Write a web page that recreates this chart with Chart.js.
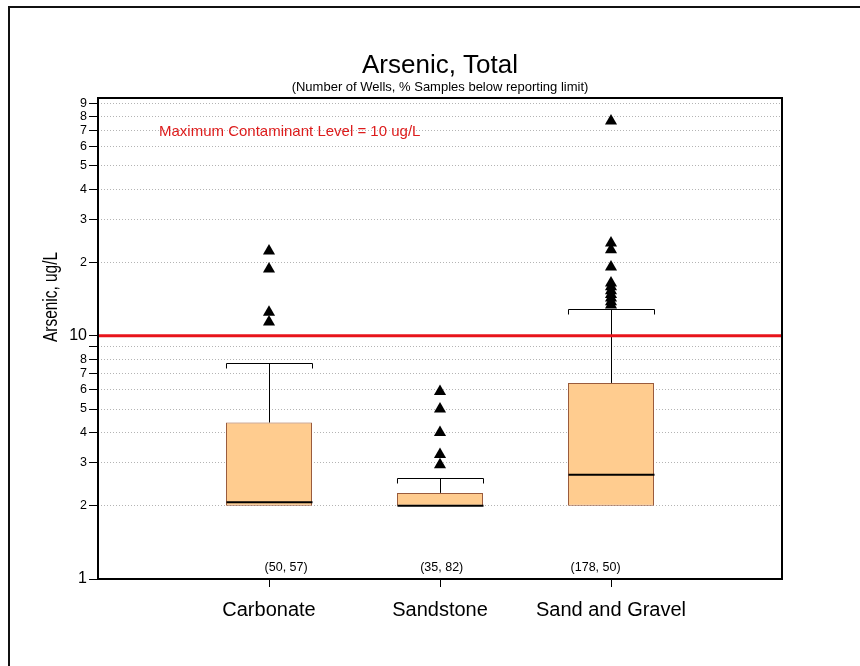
<!DOCTYPE html>
<html>
<head>
<meta charset="utf-8">
<script src="https://cdn.jsdelivr.net/npm/chart.js@4.4.0/dist/chart.umd.min.js"></script>
<style>
  html, body { margin: 0; padding: 0; background: #fff; }
  #wrap { width: 860px; height: 666px; }
</style>
</head>
<body>
<div id="wrap"><canvas id="chart" width="860" height="666"></canvas></div>
<script>
// Box plot values (ug/L)
const categories = ['Carbonate', 'Sandstone', 'Sand and Gravel'];
const countLabels = ['(50, 57)', '(35, 82)', '(178, 50)'];
const boxLow = [2, 2, 2];
const boxHigh = [4.4, 2.26, 6.4];
const medians = [2.07, 2.0, 2.68];
const whiskerHigh = [7.75, 2.6, 12.9];
const outliersCarbonate = [11.4, 12.5, 18.8, 22.3];
const outliersSandstone = [2.95, 3.25, 4.0, 5.0, 5.9];
const outliersSandGravel = [13.4, 13.8, 14.3, 14.8, 15.3, 15.9, 16.5, 19.2, 22.6, 24.1, 76.5];
const mclValue = 10;
const yTicks = [1, 2, 3, 4, 5, 6, 7, 8, 9, 10, 20, 30, 40, 50, 60, 70, 80, 90];
const yTickLabels = ['1', '2', '3', '4', '5', '6', '7', '8', '', '10', '2', '3', '4', '5', '6', '7', '8', '9'];

const FONT = "'Liberation Sans', Arial, sans-serif";
Chart.defaults.font.family = FONT;
Chart.defaults.color = '#000';

const outlierPoints = [];
[outliersCarbonate, outliersSandstone, outliersSandGravel].forEach((list, i) => {
    list.forEach(v => outlierPoints.push({ x: i + 1, y: v }));
});

function isMajor(ctx) {
    return ctx.tick && (ctx.tick.value === 1 || ctx.tick.value === 10);
}

// whiskers, medians, frame and the loose text bits
const boxExtras = {
    id: 'boxExtras',
    beforeDraw(chart) {
        const ctx = chart.ctx;
        ctx.save();
        ctx.fillStyle = '#fff';
        ctx.fillRect(0, 0, chart.width, chart.height);
        ctx.fillStyle = '#111';
        ctx.fillRect(8, 6, 2, chart.height - 6);
        ctx.fillRect(8, 6, chart.width - 8, 2);
        ctx.restore();
    },
    afterDatasetDraw(chart, args) {
        if (args.index !== 0) return;
        const ctx = chart.ctx;
        const y = chart.scales.y;
        const meta = chart.getDatasetMeta(0);
        ctx.save();
        meta.data.forEach((bar, i) => {
            const cx = Math.round(bar.x) + 0.5;
            const half = bar.width / 2;
            const top = Math.round(y.getPixelForValue(whiskerHigh[i])) + 0.5;
            const q3 = y.getPixelForValue(boxHigh[i]);
            ctx.strokeStyle = '#000';
            ctx.lineWidth = 1;
            ctx.beginPath();
            ctx.moveTo(cx, q3);
            ctx.lineTo(cx, top);
            ctx.moveTo(cx - half, top + 5);
            ctx.lineTo(cx - half, top);
            ctx.lineTo(cx + half, top);
            ctx.lineTo(cx + half, top + 5);
            ctx.stroke();

            const med = y.getPixelForValue(medians[i]);
            ctx.lineWidth = 2;
            ctx.beginPath();
            ctx.moveTo(cx - half, med);
            ctx.lineTo(cx + half, med);
            ctx.stroke();
        });
        ctx.restore();
    },
    afterDraw(chart) {
        const ctx = chart.ctx;
        const area = chart.chartArea;
        const x = chart.scales.x;
        ctx.save();
        ctx.strokeStyle = '#000';
        ctx.lineWidth = 2;
        ctx.strokeRect(area.left, area.top, area.right - area.left, area.bottom - area.top);

        ctx.fillStyle = '#dd1c1c';
        ctx.font = '15px ' + FONT;
        ctx.textAlign = 'left';
        ctx.textBaseline = 'alphabetic';
        ctx.fillText('Maximum Contaminant Level = 10 ug/L', area.left + 61, area.top + 38);

        ctx.fillStyle = '#000';
        ctx.font = '12.5px ' + FONT;
        ctx.textAlign = 'center';
        ctx.textBaseline = 'middle';
        const shift = [0.1, 0.01, -0.09];
        countLabels.forEach((t, i) => {
            ctx.fillText(t, x.getPixelForValue(i + 1 + shift[i]), area.bottom - 11);
        });

        ctx.translate(57, 297);
        ctx.rotate(-Math.PI / 2);
        ctx.font = '20px ' + FONT;
        ctx.textBaseline = 'alphabetic';
        ctx.fillText('Arsenic, ug/L', 0, 0, 90);
        ctx.restore();
    }
};

new Chart(document.getElementById('chart'), {
    type: 'bar',
    data: {
        datasets: [
            {
                type: 'bar',
                data: categories.map((c, i) => ({ x: i + 1, y: [boxLow[i], boxHigh[i]] })),
                backgroundColor: '#ffcc8f',
                borderColor: '#9a5b3d',
                borderWidth: 1,
                borderSkipped: false,
                barPercentage: 0.503,
                categoryPercentage: 1,
                order: 3,
            },
            {
                type: 'scatter',
                data: outlierPoints,
                pointStyle: 'triangle',
                pointRadius: 7,
                backgroundColor: '#000',
                borderColor: '#000',
                borderWidth: 0,
                order: 2,
            },
            {
                type: 'line',
                data: [{ x: 0, y: mclValue }, { x: 4, y: mclValue }],
                borderColor: '#e8141b',
                borderWidth: 3,
                pointRadius: 0,
                order: 1,
            },
        ],
    },
    options: {
        responsive: false,
        animation: false,
        events: [],
        layout: { padding: { left: 0, right: 78, top: 0, bottom: 0 } },
        plugins: {
            legend: { display: false },
            tooltip: { enabled: false },
            title: {
                display: true,
                fullSize: false,
                text: 'Arsenic, Total',
                color: '#000',
                font: { size: 26, weight: 'normal', lineHeight: 1 },
                padding: { top: 53, bottom: 0 },
            },
            subtitle: {
                display: true,
                fullSize: false,
                text: '(Number of Wells, % Samples below reporting limit)',
                color: '#000',
                font: { size: 13, lineHeight: 1 },
                padding: { top: 1.5, bottom: 4.5 },
            },
        },
        scales: {
            x: {
                type: 'linear',
                min: 0,
                max: 4,
                offset: false,
                afterBuildTicks: s => { s.ticks = categories.map((c, i) => ({ value: i + 1 })); },
                afterFit: s => { s.height = 87; },
                ticks: {
                    callback: (v, i) => categories[i],
                    font: { size: 20 },
                    color: '#000',
                    padding: 11,
                    maxRotation: 0,
                    autoSkip: false,
                },
                grid: {
                    display: true,
                    drawOnChartArea: false,
                    drawTicks: true,
                    tickLength: 8,
                    color: '#000',
                    offset: false,
                },
                border: { display: false },
            },
            y: {
                type: 'logarithmic',
                min: 1,
                max: 95,
                afterBuildTicks: s => { s.ticks = yTicks.map(v => ({ value: v })); },
                afterFit: s => { s.width = 98; },
                ticks: {
                    callback: (v, i) => yTickLabels[i],
                    font: ctx => ({ family: FONT, size: isMajor(ctx) ? 16 : 12.5 }),
                    color: '#000',
                    padding: 2,
                    autoSkip: false,
                },
                grid: {
                    color: ctx => isMajor(ctx) ? 'rgba(0,0,0,0)' : '#b4b4b4',
                    tickColor: '#000',
                    tickLength: 9,
                    lineWidth: 1,
                },
                border: { display: false, dash: [1, 2] },
            },
        },
    },
    plugins: [boxExtras],
});
</script>
</body>
</html>
